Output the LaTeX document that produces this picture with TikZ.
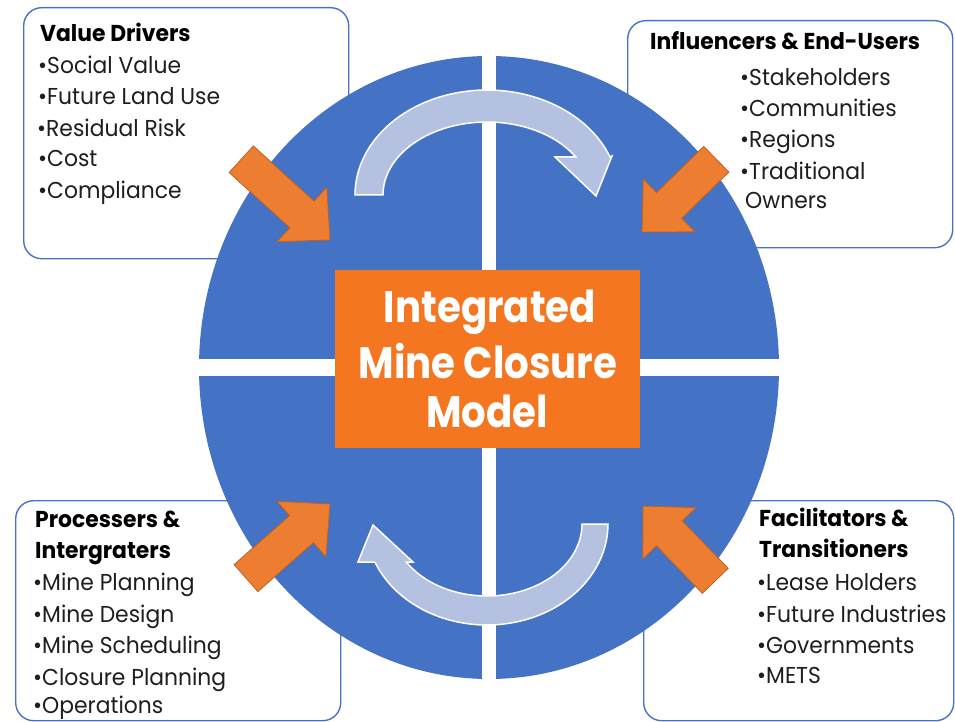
\documentclass[tikz,border=0pt]{standalone}
\usepackage{fontspec}
\setmainfont{Poppins}[FakeStretch=0.95]
\newfontfamily\centerfont{Poppins}[FakeStretch=0.88]
\definecolor{boxblue}{HTML}{4A72C4}
\definecolor{diskblue}{HTML}{4472C4}
\definecolor{arcblue}{HTML}{B4C1E1}
\definecolor{arrorange}{HTML}{ED7D31}
\definecolor{arredge}{HTML}{C0601F}
\definecolor{centerorange}{HTML}{F47621}
\definecolor{textgray}{HTML}{1E1E1E}
\newcommand\blockarrowshape[3]{%
  \filldraw[orangearr, shift={(#1)}, rotate=#2]
    (0,0) -- (-38,37) -- (-38,18) -- (-#3,18) -- (-#3,-18) -- (-38,-18) -- (-38,-37) -- cycle;}
\begin{document}
\begin{tikzpicture}[x=1pt,y=-1pt,
  infobox/.style={draw=boxblue, line width=1.4pt, rounded corners=18pt, fill=white, anchor=north west, inner sep=0pt},
  orangearr/.style={fill=arrorange, draw=arredge, line width=0.8pt, line join=miter},
  arcshape/.style={fill=arcblue, draw=white, line width=1.5pt},
  txt/.style={anchor=base west, inner sep=0pt, font=\fontsize{23}{28}\selectfont, text=textgray},
  ttl/.style={anchor=base west, inner sep=0pt, font=\fontsize{23}{28}\selectfont\bfseries, text=black},
  ctr/.style={anchor=base, inner sep=0pt, font=\centerfont\fontsize{44}{52}\selectfont\bfseries, text=white}]
\useasboundingbox (0,0) rectangle (955,722);
% boxes
\node[infobox, minimum width=325pt, minimum height=251pt] (boxvd) at (23,7) {};
\node[infobox, minimum width=325pt, minimum height=227pt] (boxie) at (627,20) {};
\node[infobox, minimum width=325pt, minimum height=220pt] (boxpi) at (15,500) {};
\node[infobox, minimum width=310pt, minimum height=220pt] (boxft) at (643,500) {};
% disk
\fill[diskblue] (489,367.5) ellipse [x radius=290, y radius=311.5];
\fill[white] (482,40) rectangle (496,700);
\fill[white] (180,358.5) rectangle (800,376);
% curved arrows
\filldraw[arcshape] plot[domain=180:338.8, samples=60] ({487+132*cos(\x)},{195+105*sin(\x)})
  -- (612,156) -- (596,196) -- (555,157)
  -- plot[domain=328.6:180, samples=60] ({487+104*cos(\x)},{195+73*sin(\x)}) -- cycle;
\filldraw[arcshape] plot[domain=0:157.9, samples=60] ({487+121*cos(\x)},{524+101*sin(\x)})
  -- (358,562) -- (373,525) -- (413,562)
  -- plot[domain=148.1:0, samples=60] ({487+95*cos(\x)},{524+72*sin(\x)}) -- cycle;
% orange arrows
\blockarrowshape{330,240}{-42.3}{120}
\blockarrowshape{642,232}{-135.6}{104}
\blockarrowshape{330,504}{41.4}{112}
\blockarrowshape{643,506}{134}{104}
% center
\node[fill=centerorange, minimum width=305pt, minimum height=178pt, inner sep=0pt] (core) at (487.5,359) {};
\node[ctr] (c1) at (490,322) {Integrated};
\node[ctr] (c2) at (488,378) {Mine Closure};
\node[ctr] (c3) at (487,427) {Model};
% texts top-left
\node[ttl] (vd0) at (40,42) {Value Drivers};
\node[txt] (vd1) at (38,74) {•Social Value};
\node[txt] (vd2) at (38,105) {•Future Land Use};
\node[txt] (vd3) at (37,137) {•Residual Risk};
\node[txt] (vd4) at (38,167) {•Cost};
\node[txt] (vd5) at (38,198) {•Compliance};
% top-right
\node[ttl] (ie0) at (650,50) {Influencers \& End-Users};
\node[txt] (ie1) at (740,86) {•Stakeholders};
\node[txt] (ie2) at (740,117) {•Communities};
\node[txt] (ie3) at (740,148) {•Regions};
\node[txt] (ie4) at (740,180) {•Traditional};
\node[txt] (ie5) at (745,208) {Owners};
% bottom-left
\node[ttl] (pi0) at (35,527) {Processers \&};
\node[ttl] (pi1) at (35,558) {Intergraters};
\node[txt] (pi2) at (33,590) {•Mine Planning};
\node[txt] (pi3) at (33,622) {•Mine Design};
\node[txt] (pi4) at (33,653) {•Mine Scheduling};
\node[txt] (pi5) at (33,685) {•Closure Planning};
\node[txt] (pi6) at (33,713) {•Operations};
% bottom-right
\node[ttl] (ft0) at (759,526) {Facilitators \&};
\node[ttl] (ft1) at (759,557) {Transitioners};
\node[txt] (ft2) at (757,590) {•Lease Holders};
\node[txt] (ft3) at (757,622) {•Future Industries};
\node[txt] (ft4) at (757,653) {•Governments};
\node[txt] (ft5) at (757,683) {•METS};
\end{tikzpicture}
\end{document}
